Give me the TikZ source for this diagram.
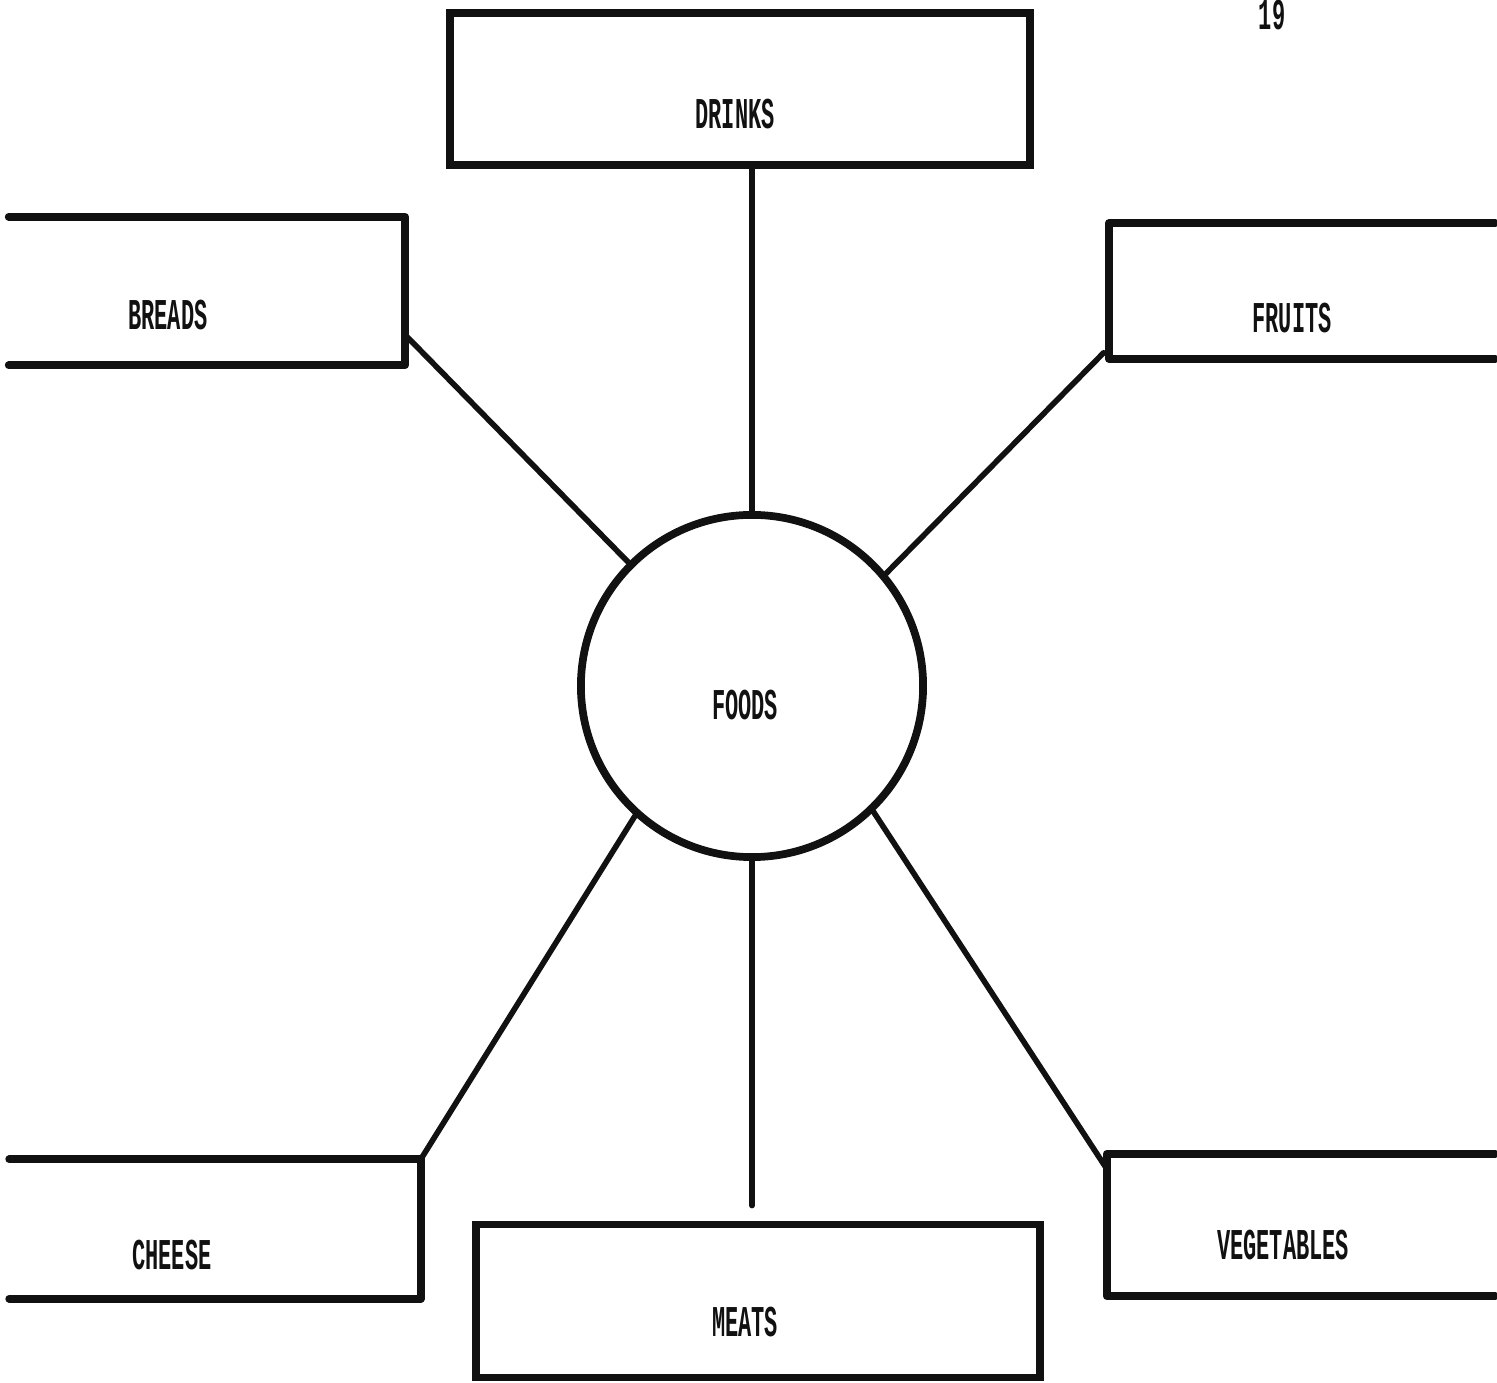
\documentclass[tikz,border=0pt]{standalone}
\usepackage{fontspec}
\usepackage{tikz}
\usetikzlibrary{calc}
\newfontfamily\typeface[FakeStretch=0.5]{Liberation Mono}
\definecolor{ink}{HTML}{111111}

\begin{document}
\begin{tikzpicture}[x=0.01cm, y=-0.01cm,
    box/.style={draw=ink, line width=2.2pt, inner sep=0pt},
    slot/.style={inner sep=0pt},
    hub/.style={circle, draw=ink, line width=2.2pt, minimum size=3.42cm, inner sep=0pt},
    lbl/.style={text=ink, font=\typeface\bfseries\fontsize{12.5}{14}\selectfont, inner sep=0pt},
    rim/.style={draw=ink, line width=2.2pt, line cap=round, line join=round},
    link/.style={draw=ink, line width=1.6pt, line cap=round}
  ]
  \useasboundingbox (0,0) rectangle (1497,1383);

  % centre
  \node[hub] (foods) at (752,686) {};
  \node[lbl] (foods-t) at (745,705) {FOODS};

  % closed boxes
  \node[box, minimum width=5.80cm, minimum height=1.52cm] (drinks) at (740,89) {};
  \node[lbl] (drinks-t) at (735,114) {DRINKS};
  \node[box, minimum width=5.63cm, minimum height=1.53cm] (meats) at (758,1301) {};
  \node[lbl] (meats-t) at (745,1322) {MEATS};

  % boxes running off the page
  \node[slot, minimum width=3.95cm, minimum height=1.47cm] (breads) at (207,291) {};
  \node[lbl] (breads-t) at (168,315) {BREADS};
  \node[slot, minimum width=4.10cm, minimum height=1.38cm] (cheese) at (215,1229) {};
  \node[lbl] (cheese-t) at (172,1255) {CHEESE};
  \node[slot, minimum width=3.85cm, minimum height=1.34cm] (fruits) at (1302,291) {};
  \node[lbl] (fruits-t) at (1292,318) {FRUITS};
  \node[slot, minimum width=3.87cm, minimum height=1.41cm] (veg) at (1301,1225) {};
  \node[lbl] (veg-t) at (1283,1245) {VEGETABLES};

  \draw[rim] (breads.north west) -- (breads.north east) -- (breads.south east) -- (breads.south west);
  \draw[rim] (cheese.north west) -- (cheese.north east) -- (cheese.south east) -- (cheese.south west);
  \draw[rim] (fruits.north east) -- (fruits.north west) -- (fruits.south west) -- (fruits.south east);
  \draw[rim] (veg.north east) -- (veg.north west) -- (veg.south west) -- (veg.south east);

  % page number
  \node[lbl] (page) at (1272,15) {19};

  % spokes
  \draw[link] (foods.north) -- (foods.north |- drinks.south);
  \draw[link] (foods.135) -- ([yshift=-0.44cm]breads.east);
  \draw[link] (foods.40) -- ([shift={(-0.05cm,0.06cm)}]fruits.south west);
  \draw[link] (foods.228) -- (cheese.north east);
  \draw[link] (foods.south) -- ($(foods.south |- meats.north)+(0,0.15cm)$);
  \draw[link] (foods.314) -- ([yshift=-0.15cm]veg.north west);
\end{tikzpicture}
\end{document}
